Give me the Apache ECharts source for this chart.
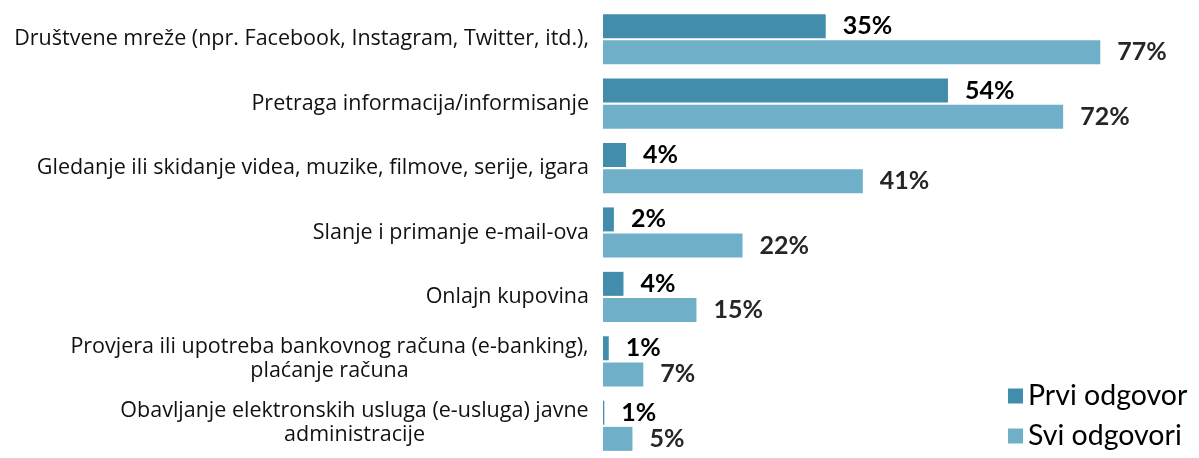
<!DOCTYPE html>
<html>
<head>
<meta charset="utf-8">
<script src="https://cdn.jsdelivr.net/npm/echarts@6/dist/echarts.min.js"></script>
<style>
html,body{margin:0;padding:0;background:#fff;}
#chart{width:1199px;height:458px;}
</style>
</head>
<body>
<div id="chart"></div>
<script>
const categories = [
  "Društvene mreže (npr. Facebook, Instagram, Twitter, itd.),",
  "Pretraga informacija/informisanje",
  "Gledanje ili skidanje videa, muzike, filmove, serije, igara",
  "Slanje i primanje e-mail-ova",
  "Onlajn kupovina",
  "Provjera ili upotreba bankovnog računa (e-banking),\nplaćanje računa",
  "Obavljanje elektronskih usluga (e-usluga) javne\nadministracije"
];
const seriesNames = ["Prvi odgovor", "Svi odgovori"];
const prviValues = [34.8, 53.9, 3.6, 1.7, 3.2, 0.9, 0.2];
const sviValues = [77.7, 71.9, 40.6, 21.8, 14.6, 6.3, 4.6];
const prviLabels = ["35%", "54%", "4%", "2%", "4%", "1%", "1%"];
const sviLabels = ["77%", "72%", "41%", "22%", "15%", "7%", "5%"];

const FONT = "Lato, 'Open Sans', sans-serif";
const CAT_FONT = "'Open Sans', Lato, sans-serif";
const CAT_SIZE = 21.5;
const chart = echarts.init(document.getElementById('chart'));

// measure text widths so multi-line labels can be centred line by line
const ctx = document.createElement('canvas').getContext('2d');
ctx.font = CAT_SIZE + "px 'Open Sans'";
const rich = {};
categories.forEach((c, i) => {
  if (c.indexOf('\n') >= 0) {
    const w = Math.max(...c.split('\n').map(s => ctx.measureText(s).width));
    rich['m' + i] = {
      width: Math.ceil(w), align: 'center',
      fontFamily: CAT_FONT, fontSize: CAT_SIZE, lineHeight: 24, color: '#111'
    };
  }
});

const catData = categories.map(c => c.indexOf('\n') >= 0
  ? { value: c, textStyle: { padding: [0, 0, 5, 0] } }
  : c);

chart.setOption({
  animation: false,
  textStyle: { fontFamily: FONT },
  grid: { left: 603, top: 7, width: 576, height: 461, containLabel: false },
  legend: {
    orient: 'vertical',
    left: 1008,
    top: 380,
    height: 120,
    padding: 0,
    itemWidth: 15,
    itemHeight: 15,
    itemGap: 8,
    icon: 'rect',
    textStyle: { fontFamily: FONT, fontSize: 28.5, color: '#000', lineHeight: 32, padding: [0, 0, 0, 0] },
    data: seriesNames
  },
  xAxis: {
    type: 'value', min: 0, max: 90,
    show: false
  },
  yAxis: {
    type: 'category',
    inverse: true,
    data: catData,
    axisLine: { show: false },
    axisTick: { show: false },
    axisLabel: {
      interval: 0,
      hideOverlap: false,
      margin: 14,
      fontFamily: CAT_FONT,
      fontSize: CAT_SIZE,
      lineHeight: 24,
      color: '#111',
      align: 'right',
      rich: rich,
      formatter: (v, i) => v.indexOf('\n') >= 0
        ? v.split('\n').map(s => '{m' + i + '|' + s + '}').join('\n')
        : v
    }
  },
  series: [
    {
      name: seriesNames[0],
      type: 'bar',
      data: prviValues,
      barWidth: 24,
      barGap: '9%',
      itemStyle: { color: '#418DAB' },
      label: {
        show: true, position: 'right', distance: 17,
        fontFamily: FONT, fontSize: 25, fontWeight: 'bold', color: '#000',
        formatter: p => prviLabels[p.dataIndex]
      }
    },
    {
      name: seriesNames[1],
      type: 'bar',
      data: sviValues,
      barWidth: 24,
      itemStyle: { color: '#6FB0C8' },
      label: {
        show: true, position: 'right', distance: 17,
        fontFamily: FONT, fontSize: 25, fontWeight: 'bold', color: '#262626',
        formatter: p => sviLabels[p.dataIndex]
      }
    }
  ]
});
</script>
</body>
</html>
